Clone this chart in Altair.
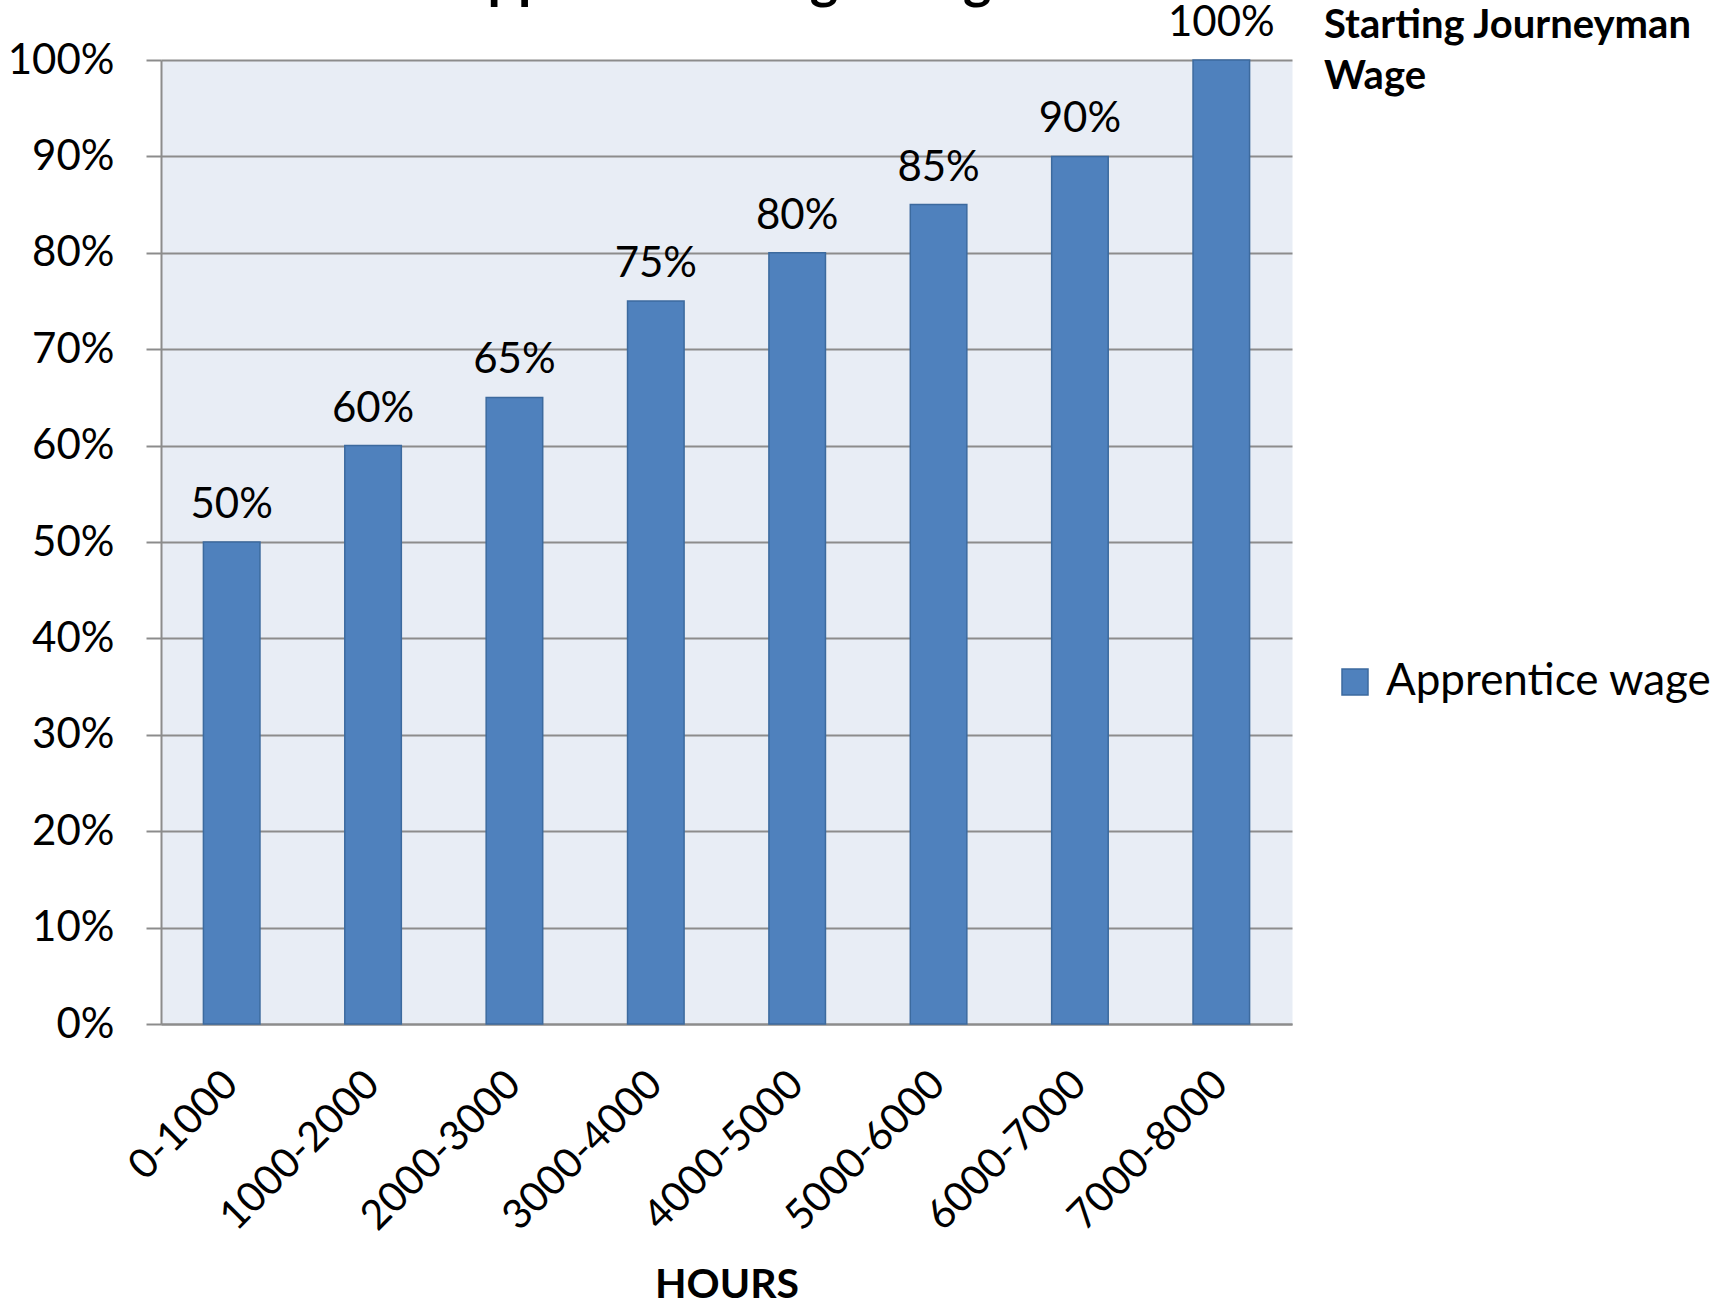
import altair as alt
import pandas as pd

# ---- data ----
hours = ["0-1000", "1000-2000", "2000-3000", "3000-4000",
         "4000-5000", "5000-6000", "6000-7000", "7000-8000"]
wage = [0.50, 0.60, 0.65, 0.75, 0.80, 0.85, 0.90, 1.00]
series_name = "Apprentice wage"
y_ticks = [0.0, 0.1, 0.2, 0.3, 0.4, 0.5, 0.6, 0.7, 0.8, 0.9, 1.0]
chart_title = "Apprentice Wage Progression"
note_lines = ["Starting Journeyman", "Wage"]
x_title = "HOURS"

df = pd.DataFrame({"hours": hours, "wage": wage, "series": [series_name] * len(hours)})

FONT = "Lato"
BAR = "#4F81BD"
BAR_EDGE = "#3C6A9E"
GRID = "#8C8C8C"

W, H = 1131, 964
PAD_L, PAD_T = 161, 60

x_enc = alt.X(
    "hours:N", sort=hours,
    scale=alt.Scale(paddingInner=0.6, paddingOuter=0.3),
    axis=alt.Axis(
        title=x_title, titleFont=FONT, titleFontSize=41, titleFontWeight="bold",
        titleColor="black", titleBaseline="alphabetic", titleY=273,
        labelAngle=-45, labelAlign="right", labelBaseline="middle",
        labelFont=FONT, labelFontSize=41, labelColor="black", labelPadding=54,
        labelLimit=0, labelOverlap=False,
        ticks=False, domainColor=GRID, domainWidth=2, grid=False,
    ),
)
y_enc = alt.Y(
    "wage:Q",
    scale=alt.Scale(domain=[0, 1], nice=False),
    axis=alt.Axis(
        title=None, values=y_ticks, format=".0%",
        labelFont=FONT, labelFontSize=42, labelColor="black", labelPadding=32,
        tickSize=15, tickColor=GRID, tickWidth=2,
        domainColor=GRID, domainWidth=2,
        gridColor=GRID, gridWidth=2,
    ),
)

bars = alt.Chart(df).mark_bar(stroke=BAR_EDGE, strokeWidth=1.5).encode(
    x=x_enc, y=y_enc,
    color=alt.Color(
        "series:N",
        scale=alt.Scale(range=[BAR]),
        legend=alt.Legend(
            title=None, orient="none", legendX=1172, legendY=600,
            symbolType="square", symbolSize=676, symbolStrokeColor=BAR_EDGE,
            symbolStrokeWidth=1.5, labelFont=FONT, labelFontSize=44,
            labelColor="black", labelOffset=9, padding=0, labelLimit=500,
        ),
    ),
)

labels = alt.Chart(df).mark_text(
    font=FONT, fontSize=42, color="black", baseline="alphabetic", dy=-24
).encode(
    x=alt.X("hours:N", sort=hours),
    y="wage:Q",
    text=alt.Text("wage:Q", format=".0%"),
)

title_df = pd.DataFrame({"t": [chart_title]})
title_mark = alt.Chart(title_df).mark_text(
    font=FONT, fontSize=54, fontWeight="bold", color="black",
    align="left", baseline="alphabetic",
).encode(
    x=alt.value(450 - PAD_L), y=alt.value(-2 - PAD_T), text="t:N"
)

note_df = pd.DataFrame({"n": [note_lines]})
note_mark = alt.Chart(note_df).mark_text(
    font=FONT, fontSize=40, fontWeight="bold", color="black",
    align="left", baseline="alphabetic", lineHeight=51,
).encode(
    x=alt.value(1324 - PAD_L), y=alt.value(38 - PAD_T), text=alt.value(note_lines)
)

chart = alt.layer(bars, labels, title_mark, note_mark).properties(
    width=W, height=H,
    autosize=alt.AutoSizeParams(type="none"),
    padding={"left": PAD_L, "top": PAD_T, "right": 1713 - PAD_L - W, "bottom": 1304 - PAD_T - H},
    background="white",
).configure_view(
    fill="#E8EDF5", stroke="transparent"
)

chart.save("out.html", embed_options={"renderer": "svg", "actions": False})
